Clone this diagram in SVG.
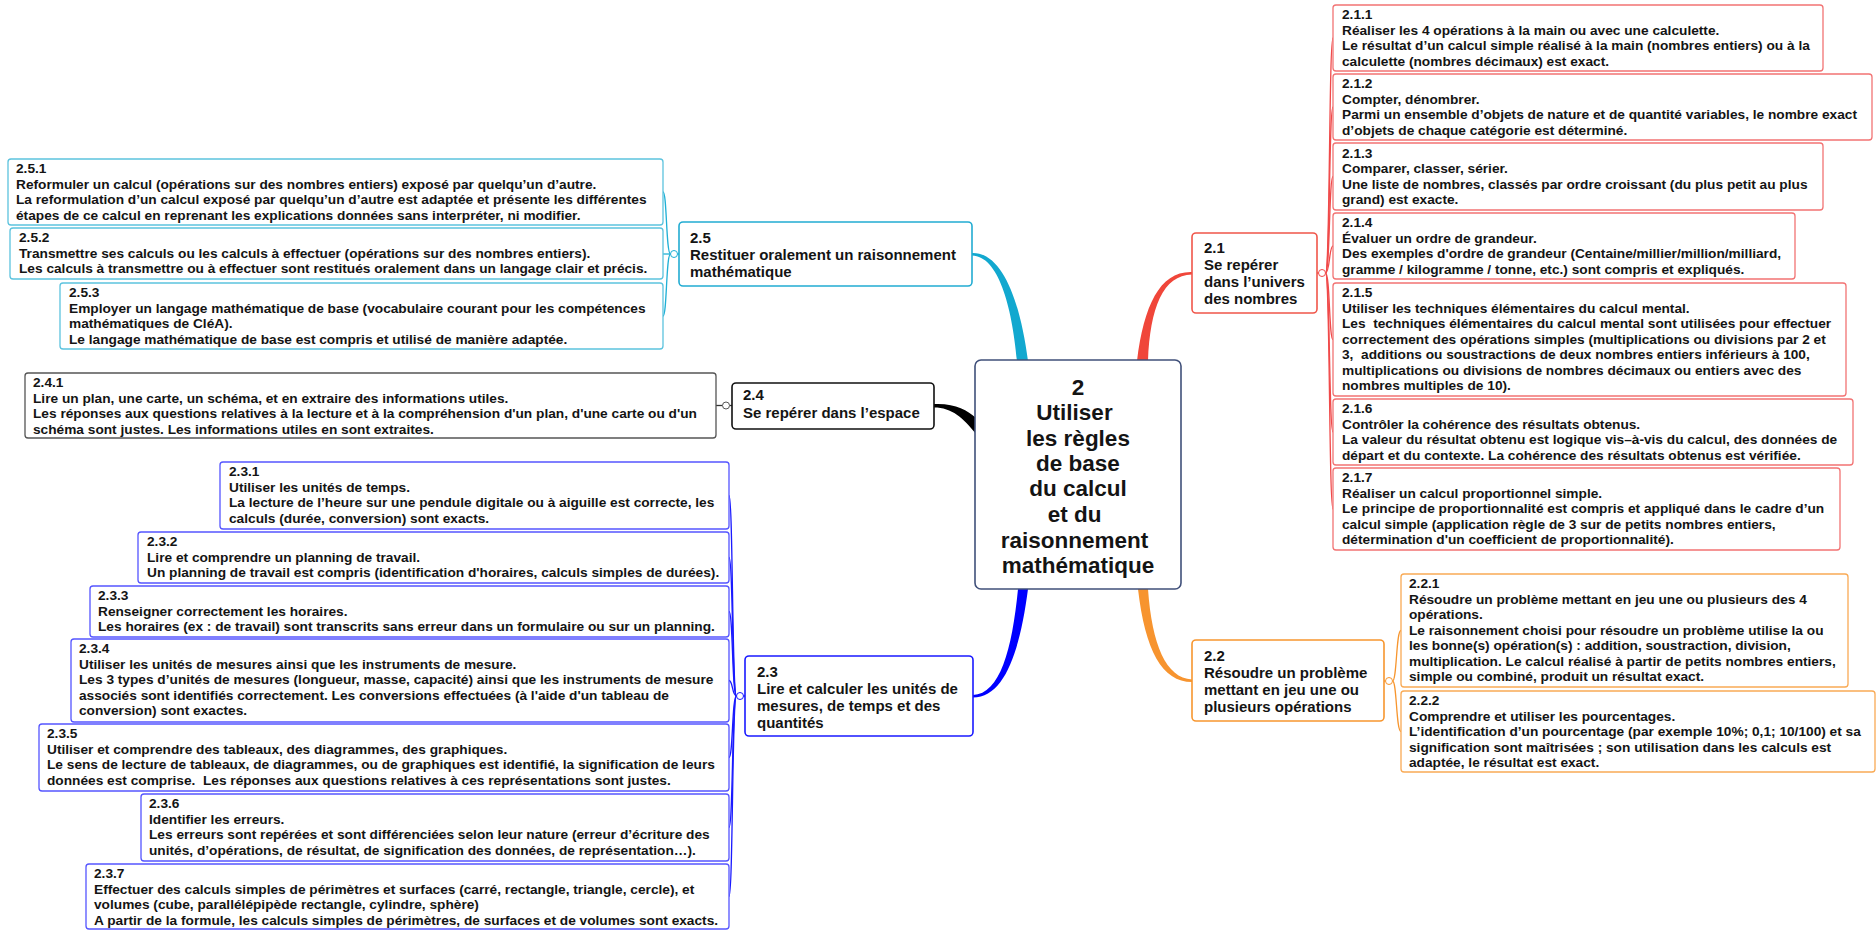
<svg xmlns="http://www.w3.org/2000/svg" width="1876" height="930" viewBox="0 0 1876 930">
<style>
text{font-family:"Liberation Sans",Arial,sans-serif;font-weight:bold;fill:#141414}
.c{font-size:13.7px}
.t{font-size:15px}
.m{font-size:22.5px;text-anchor:middle}
rect{fill:#fff}
.r1{stroke:#f0564a;stroke-width:1.6}
.r2{stroke:#f27373;stroke-width:1.3}
.o1{stroke:#f7962f;stroke-width:1.6}
.o2{stroke:#f9aa55;stroke-width:1.3}
.b1{stroke:#1a1aff;stroke-width:1.6}
.b2{stroke:#5555ff;stroke-width:1.3}
.k1{stroke:#111;stroke-width:1.6}
.k2{stroke:#555;stroke-width:1.3}
.y1{stroke:#22acd2;stroke-width:1.6}
.y2{stroke:#5cc3de;stroke-width:1.3}
.ln{fill:none;stroke-width:1.3}
.dot{fill:#fff;stroke-width:1}
</style>
<g id="connectors">
<path d="M1137 361 C1144 305 1160 271 1192 272 L1192 274.5 C1163 275 1150 308 1148 361 Z" fill="#f0463a"/>
<path d="M1028 361 C1020 300 1002 252 972 253 L972 255.5 C998 256 1012 305 1017 361 Z" fill="#12a8cf"/>
<path d="M934 404 C955 403 967 410 976 418 L976 434 C963 418 952 407.5 934 407.5 Z" fill="#000"/>
<path d="M1028 589 C1020 650 1005 697.5 973 697.5 L973 695 C1000 694 1012 650 1018 589 Z" fill="#0000ff"/>
<path d="M1138 589 C1145 650 1162 682 1192 682 L1192 679.5 C1166 678 1152 645 1148 589 Z" fill="#f7942f"/>
<g stroke="#f04a4a" class="ln">
<path d="M1317 273 H1318.5"/>
<path d="M1325.5 273 C1330 273 1329 38 1333 38"/>
<path d="M1325.5 273 C1330 273 1329 107 1333 107"/>
<path d="M1325.5 273 C1330 273 1329 176.5 1333 176.5"/>
<path d="M1325.5 273 C1330 273 1329 246 1333 246"/>
<path d="M1325.5 273 C1330 273 1329 339.5 1333 339.5"/>
<path d="M1325.5 273 C1330 273 1329 432 1333 432"/>
<path d="M1325.5 273 C1330 273 1329 509 1333 509"/>
</g>
<circle cx="1322" cy="273" r="3.5" class="dot" stroke="#f04a4a"/>
<g stroke="#1fb0d6" class="ln">
<path d="M679 254 H677.5"/>
<path d="M670.5 254 C666 254 667 192 663 192"/>
<path d="M670.5 254 H663"/>
<path d="M670.5 254 C666 254 667 316 663 316"/>
</g>
<circle cx="674" cy="254" r="3.5" class="dot" stroke="#1fb0d6"/>
<g stroke="#333" class="ln">
<path d="M732 405.5 H729.5"/>
<path d="M722.5 405.5 H716"/>
</g>
<circle cx="726" cy="405.5" r="3.5" class="dot" stroke="#555"/>
<g stroke="#1a1aff" class="ln">
<path d="M745 696 H743.5"/>
<path d="M736.5 696 C732 696 733 495.5 729 495.5"/>
<path d="M736.5 696 C732 696 733 557.5 729 557.5"/>
<path d="M736.5 696 C732 696 733 611.5 729 611.5"/>
<path d="M736.5 696 C732 696 733 680.5 729 680.5"/>
<path d="M736.5 696 C732 696 733 757.5 729 757.5"/>
<path d="M736.5 696 C732 696 733 827.5 729 827.5"/>
<path d="M736.5 696 C732 696 733 896.5 729 896.5"/>
</g>
<circle cx="740" cy="696" r="3.5" class="dot" stroke="#1a1aff"/>
<g stroke="#f7962f" class="ln">
<path d="M1384 681 H1385.5"/>
<path d="M1392.5 681 C1397 681 1396 630.5 1401 630.5"/>
<path d="M1392.5 681 C1397 681 1396 731.5 1401 731.5"/>
</g>
<circle cx="1389" cy="681" r="3.5" class="dot" stroke="#f7962f"/>
</g>

<g id="n2">
<rect x="975" y="360" width="206" height="229" rx="6" stroke="#40507a" stroke-width="1.6"/>
<text class="m" x="1078" y="395">2</text>
<text class="m" x="1074.5" y="420">Utiliser</text>
<text class="m" x="1078" y="446">les règles</text>
<text class="m" x="1078" y="471">de base</text>
<text class="m" x="1078" y="496">du calcul</text>
<text class="m" x="1074.5" y="522">et du</text>
<text class="m" x="1074.5" y="548">raisonnement</text>
<text class="m" x="1078" y="573">mathématique</text>
</g>

<g id="n2_1">
<rect x="1192" y="233" width="125" height="80" rx="4" class="r1"/>
<text class="t" x="1204" y="252.5">2.1</text>
<text class="t" x="1204" y="269.7">Se repérer</text>
<text class="t" x="1204" y="286.9">dans l’univers</text>
<text class="t" x="1204" y="304.1">des nombres</text>
</g>
<g id="n2_1_1">
<rect x="1333" y="5" width="490" height="66" rx="3" class="r2"/>
<text class="c" x="1342" y="19">2.1.1</text>
<text class="c" x="1342" y="34.5">Réaliser les 4 opérations à la main ou avec une calculette.</text>
<text class="c" x="1342" y="50">Le résultat d’un calcul simple réalisé à la main (nombres entiers) ou à la</text>
<text class="c" x="1342" y="65.5">calculette (nombres décimaux) est exact.</text>
</g>
<g id="n2_1_2">
<rect x="1333" y="74" width="539" height="66" rx="3" class="r2"/>
<text class="c" x="1342" y="88">2.1.2</text>
<text class="c" x="1342" y="103.5">Compter, dénombrer.</text>
<text class="c" x="1342" y="119">Parmi un ensemble d’objets de nature et de quantité variables, le nombre exact</text>
<text class="c" x="1342" y="134.5">d’objets de chaque catégorie est déterminé.</text>
</g>
<g id="n2_1_3">
<rect x="1333" y="143" width="490" height="67" rx="3" class="r2"/>
<text class="c" x="1342" y="157.5">2.1.3</text>
<text class="c" x="1342" y="173">Comparer, classer, sérier.</text>
<text class="c" x="1342" y="188.5">Une liste de nombres, classés par ordre croissant (du plus petit au plus</text>
<text class="c" x="1342" y="204">grand) est exacte.</text>
</g>
<g id="n2_1_4">
<rect x="1333" y="213" width="462" height="66" rx="3" class="r2"/>
<text class="c" x="1342" y="227">2.1.4</text>
<text class="c" x="1342" y="242.5">Évaluer un ordre de grandeur.</text>
<text class="c" x="1342" y="258">Des exemples d'ordre de grandeur (Centaine/millier/million/milliard,</text>
<text class="c" x="1342" y="273.5">gramme / kilogramme / tonne, etc.) sont compris et expliqués.</text>
</g>
<g id="n2_1_5">
<rect x="1333" y="283" width="513" height="113" rx="3" class="r2"/>
<text class="c" x="1342" y="297">2.1.5</text>
<text class="c" x="1342" y="312.5">Utiliser les techniques élémentaires du calcul mental.</text>
<text class="c" x="1342" y="328">Les&#160; techniques élémentaires du calcul mental sont utilisées pour effectuer</text>
<text class="c" x="1342" y="343.5">correctement des opérations simples (multiplications ou divisions par 2 et</text>
<text class="c" x="1342" y="359">3,&#160; additions ou soustractions de deux nombres entiers inférieurs à 100,</text>
<text class="c" x="1342" y="374.5">multiplications ou divisions de nombres décimaux ou entiers avec des</text>
<text class="c" x="1342" y="390">nombres multiples de 10).</text>
</g>
<g id="n2_1_6">
<rect x="1333" y="399" width="520" height="66" rx="3" class="r2"/>
<text class="c" x="1342" y="413">2.1.6</text>
<text class="c" x="1342" y="428.5">Contrôler la cohérence des résultats obtenus.</text>
<text class="c" x="1342" y="444">La valeur du résultat obtenu est logique vis–à-vis du calcul, des données de</text>
<text class="c" x="1342" y="459.5">départ et du contexte. La cohérence des résultats obtenus est vérifiée.</text>
</g>
<g id="n2_1_7">
<rect x="1333" y="468" width="507" height="82" rx="3" class="r2"/>
<text class="c" x="1342" y="482">2.1.7</text>
<text class="c" x="1342" y="497.5">Réaliser un calcul proportionnel simple.</text>
<text class="c" x="1342" y="513">Le principe de proportionnalité est compris et appliqué dans le cadre d’un</text>
<text class="c" x="1342" y="528.5">calcul simple (application règle de 3 sur de petits nombres entiers,</text>
<text class="c" x="1342" y="544">détermination d'un coefficient de proportionnalité).</text>
</g>

<g id="n2_2">
<rect x="1192" y="640" width="192" height="81" rx="4" class="o1"/>
<text class="t" x="1204" y="660.5">2.2</text>
<text class="t" x="1204" y="677.5">Résoudre un problème</text>
<text class="t" x="1204" y="694.5">mettant en jeu une ou</text>
<text class="t" x="1204" y="711.5">plusieurs opérations</text>
</g>
<g id="n2_2_1">
<rect x="1401" y="574" width="447" height="113" rx="3" class="o2"/>
<text class="c" x="1409" y="588">2.2.1</text>
<text class="c" x="1409" y="603.5">Résoudre un problème mettant en jeu une ou plusieurs des 4</text>
<text class="c" x="1409" y="619">opérations.</text>
<text class="c" x="1409" y="634.5">Le raisonnement choisi pour résoudre un problème utilise la ou</text>
<text class="c" x="1409" y="650">les bonne(s) opération(s) : addition, soustraction, division,</text>
<text class="c" x="1409" y="665.5">multiplication. Le calcul réalisé à partir de petits nombres entiers,</text>
<text class="c" x="1409" y="681">simple ou combiné, produit un résultat exact.</text>
</g>
<g id="n2_2_2">
<rect x="1401" y="691" width="474" height="81" rx="3" class="o2"/>
<text class="c" x="1409" y="705">2.2.2</text>
<text class="c" x="1409" y="720.5">Comprendre et utiliser les pourcentages.</text>
<text class="c" x="1409" y="736">L’identification d’un pourcentage (par exemple 10%; 0,1; 10/100) et sa</text>
<text class="c" x="1409" y="751.5">signification sont maîtrisées ; son utilisation dans les calculs est</text>
<text class="c" x="1409" y="767">adaptée, le résultat est exact.</text>
</g>

<g id="n2_3">
<rect x="745" y="656" width="228" height="80" rx="4" class="b1"/>
<text class="t" x="757" y="676.5">2.3</text>
<text class="t" x="757" y="693.5">Lire et calculer les unités de</text>
<text class="t" x="757" y="710.5">mesures, de temps et des</text>
<text class="t" x="757" y="727.5">quantités</text>
</g>
<g id="n2_3_1">
<rect x="220" y="462" width="509" height="67" rx="3" class="b2"/>
<text class="c" x="229" y="476">2.3.1</text>
<text class="c" x="229" y="491.5">Utiliser les unités de temps.</text>
<text class="c" x="229" y="507">La lecture de l’heure sur une pendule digitale ou à aiguille est correcte, les</text>
<text class="c" x="229" y="522.5">calculs (durée, conversion) sont exacts.</text>
</g>
<g id="n2_3_2">
<rect x="138" y="532" width="591" height="51" rx="3" class="b2"/>
<text class="c" x="147" y="546">2.3.2</text>
<text class="c" x="147" y="561.5">Lire et comprendre un planning de travail.</text>
<text class="c" x="147" y="577">Un planning de travail est compris (identification d'horaires, calculs simples de durées).</text>
</g>
<g id="n2_3_3">
<rect x="90" y="586" width="639" height="51" rx="3" class="b2"/>
<text class="c" x="98" y="600">2.3.3</text>
<text class="c" x="98" y="615.5">Renseigner correctement les horaires.</text>
<text class="c" x="98" y="631">Les horaires (ex : de travail) sont transcrits sans erreur dans un formulaire ou sur un planning.</text>
</g>
<g id="n2_3_4">
<rect x="71" y="639" width="658" height="83" rx="3" class="b2"/>
<text class="c" x="79" y="653">2.3.4</text>
<text class="c" x="79" y="668.5">Utiliser les unités de mesures ainsi que les instruments de mesure.</text>
<text class="c" x="79" y="684">Les 3 types d’unités de mesures (longueur, masse, capacité) ainsi que les instruments de mesure</text>
<text class="c" x="79" y="699.5">associés sont identifiés correctement. Les conversions effectuées (à l'aide d'un tableau de</text>
<text class="c" x="79" y="715">conversion) sont exactes.</text>
</g>
<g id="n2_3_5">
<rect x="39" y="724" width="690" height="67" rx="3" class="b2"/>
<text class="c" x="47" y="738">2.3.5</text>
<text class="c" x="47" y="753.5">Utiliser et comprendre des tableaux, des diagrammes, des graphiques.</text>
<text class="c" x="47" y="769">Le sens de lecture de tableaux, de diagrammes, ou de graphiques est identifié, la signification de leurs</text>
<text class="c" x="47" y="784.5">données est comprise.&#160; Les réponses aux questions relatives à ces représentations sont justes.</text>
</g>
<g id="n2_3_6">
<rect x="141" y="794" width="588" height="67" rx="3" class="b2"/>
<text class="c" x="149" y="808">2.3.6</text>
<text class="c" x="149" y="823.5">Identifier les erreurs.</text>
<text class="c" x="149" y="839">Les erreurs sont repérées et sont différenciées selon leur nature (erreur d’écriture des</text>
<text class="c" x="149" y="854.5">unités, d’opérations, de résultat, de signification des données, de représentation…).</text>
</g>
<g id="n2_3_7">
<rect x="86" y="864" width="643" height="65" rx="3" class="b2"/>
<text class="c" x="94" y="878">2.3.7</text>
<text class="c" x="94" y="893.5">Effectuer des calculs simples de périmètres et surfaces (carré, rectangle, triangle, cercle), et</text>
<text class="c" x="94" y="909">volumes (cube, parallélépipède rectangle, cylindre, sphère)</text>
<text class="c" x="94" y="924.5">A partir de la formule, les calculs simples de périmètres, de surfaces et de volumes sont exacts.</text>
</g>

<g id="n2_4">
<rect x="732" y="383" width="202" height="46" rx="4" class="k1"/>
<text class="t" x="743" y="400">2.4</text>
<text class="t" x="743" y="417.5">Se repérer dans l’espace</text>
</g>
<g id="n2_4_1">
<rect x="25" y="373" width="691" height="65" rx="3" class="k2"/>
<text class="c" x="33" y="387">2.4.1</text>
<text class="c" x="33" y="402.5">Lire un plan, une carte, un schéma, et en extraire des informations utiles.</text>
<text class="c" x="33" y="418">Les réponses aux questions relatives à la lecture et à la compréhension d'un plan, d'une carte ou d'un</text>
<text class="c" x="33" y="433.5">schéma sont justes. Les informations utiles en sont extraites.</text>
</g>

<g id="n2_5">
<rect x="679" y="222" width="293" height="64" rx="4" class="y1"/>
<text class="t" x="690" y="242.5">2.5</text>
<text class="t" x="690" y="259.5">Restituer oralement un raisonnement</text>
<text class="t" x="690" y="276.5">mathématique</text>
</g>
<g id="n2_5_1">
<rect x="8" y="159" width="655" height="66" rx="3" class="y2"/>
<text class="c" x="16" y="173">2.5.1</text>
<text class="c" x="16" y="188.5">Reformuler un calcul (opérations sur des nombres entiers) exposé par quelqu’un d’autre.</text>
<text class="c" x="16" y="204">La reformulation d’un calcul exposé par quelqu’un d’autre est adaptée et présente les différentes</text>
<text class="c" x="16" y="219.5">étapes de ce calcul en reprenant les explications données sans interpréter, ni modifier.</text>
</g>
<g id="n2_5_2">
<rect x="10" y="228" width="653" height="51" rx="3" class="y2"/>
<text class="c" x="19" y="242">2.5.2</text>
<text class="c" x="19" y="257.5">Transmettre ses calculs ou les calculs à effectuer (opérations sur des nombres entiers).</text>
<text class="c" x="19" y="273">Les calculs à transmettre ou à effectuer sont restitués oralement dans un langage clair et précis.</text>
</g>
<g id="n2_5_3">
<rect x="60" y="283" width="603" height="66" rx="3" class="y2"/>
<text class="c" x="69" y="297">2.5.3</text>
<text class="c" x="69" y="312.5">Employer un langage mathématique de base (vocabulaire courant pour les compétences</text>
<text class="c" x="69" y="328">mathématiques de CléA).</text>
<text class="c" x="69" y="343.5">Le langage mathématique de base est compris et utilisé de manière adaptée.</text>
</g>
</svg>
